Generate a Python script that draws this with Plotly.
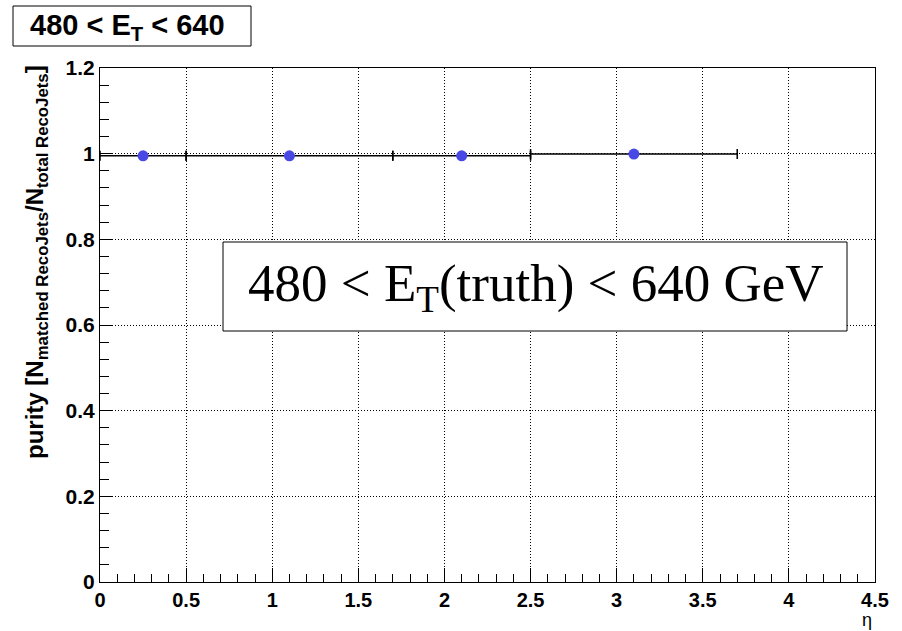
import plotly.graph_objects as go

# data
eta_low = [0.0, 0.5, 1.7, 2.5]
eta_high = [0.5, 1.7, 2.5, 3.7]
eta = [0.25, 1.1, 2.1, 3.1]
purity = [0.995, 0.995, 0.995, 0.999]
purity_err = [0.002, 0.002, 0.002, 0.002]

x_ticks = [0, 0.5, 1, 1.5, 2, 2.5, 3, 3.5, 4, 4.5]
x_ticklabels = ["0", "0.5", "1", "1.5", "2", "2.5", "3", "3.5", "4", "4.5"]
y_ticks = [0, 0.2, 0.4, 0.6, 0.8, 1.0, 1.2]
y_ticklabels = ["0", "0.2", "0.4", "0.6", "0.8", "1", "1.2"]

err_plus = [h - e for h, e in zip(eta_high, eta)]
err_minus = [e - l for e, l in zip(eta, eta_low)]

W, H = 902, 631
L, R, T, B = 100, 27, 68, 49
pw, ph = W - L - R, H - T - B

def px(xpix):
    return (xpix - L) / pw

def py(ypix):
    return (H - B - ypix) / ph

fig = go.Figure()
fig.add_trace(go.Scatter(
    x=eta, y=purity, mode="markers",
    marker=dict(color="rgb(72,72,228)", size=11, symbol="circle"),
    error_x=dict(type="data", array=err_plus, arrayminus=err_minus,
                 color="black", thickness=1.5, width=5),
    error_y=dict(type="data", array=purity_err, color="black", thickness=1.5, width=0),
    showlegend=False,
))

SANS = "Liberation Sans, Arial, sans-serif"
xaxis_font = dict(family=SANS, size=20, color="black", weight="bold")
yaxis_font = dict(family=SANS, size=21, color="black", weight="bold")

fig.update_xaxes(
    range=[0, 4.5], tickmode="array", tickvals=x_ticks, ticktext=x_ticklabels,
    ticks="inside", ticklen=14, tickwidth=1, tickcolor="black",
    showline=True, linecolor="black", linewidth=1, mirror=True,
    showgrid=True, gridcolor="black", griddash="1px,2px", gridwidth=1,
    zeroline=False, tickfont=xaxis_font,
    minor=dict(dtick=0.1, ticks="inside", ticklen=8, tickcolor="black", showgrid=False),
)
fig.update_yaxes(
    range=[0, 1.2], tickmode="array", tickvals=y_ticks, ticktext=y_ticklabels,
    ticks="inside", ticklen=12, tickwidth=1, tickcolor="black",
    showline=True, linecolor="black", linewidth=1, mirror=True,
    showgrid=True, gridcolor="black", griddash="1px,2px", gridwidth=1,
    zeroline=False, tickfont=yaxis_font,
    minor=dict(dtick=0.04, ticks="inside", ticklen=9, tickcolor="black", showgrid=False),
)

shapes = [
    dict(type="rect", xref="paper", yref="paper",
         x0=px(13), x1=px(251), y0=py(46), y1=py(6),
         line=dict(color="black", width=1), fillcolor="white", layer="above"),
    dict(type="rect", xref="paper", yref="paper",
         x0=px(223), x1=px(847), y0=py(331), y1=py(242),
         line=dict(color="black", width=1), fillcolor="white", layer="above"),
]

annotations = [
    dict(text="480 &lt; E<sub>T</sub> &lt; 640", xref="paper", yref="paper",
         x=px(127), y=py(27), xanchor="center", yanchor="middle", showarrow=False,
         font=dict(family=SANS, size=29, color="black", weight="bold")),
    dict(text="480 &lt; E<sub>T</sub>(truth) &lt; 640 GeV", xref="paper", yref="paper",
         x=px(536), y=py(287), xanchor="center", yanchor="middle", showarrow=False,
         font=dict(family="Liberation Serif, Times New Roman, serif", size=53, color="black")),
    dict(text="purity [N<sub>matched RecoJets</sub>/N<sub>total RecoJets</sub>]",
         xref="paper", yref="paper", x=px(36), y=py(262), xanchor="center", yanchor="middle",
         textangle=-90, showarrow=False,
         font=dict(family=SANS, size=24, color="black", weight="bold")),
    dict(text="η", xref="paper", yref="paper", x=px(867), y=py(631),
         xanchor="center", yanchor="bottom", showarrow=False, borderpad=0, height=20,
         font=dict(family=SANS, size=18, color="black")),
]

fig.update_layout(
    width=W, height=H, margin=dict(l=L, r=R, t=T, b=B),
    paper_bgcolor="white", plot_bgcolor="white",
    annotations=annotations, shapes=shapes,
)

fig.write_html("out.html")
